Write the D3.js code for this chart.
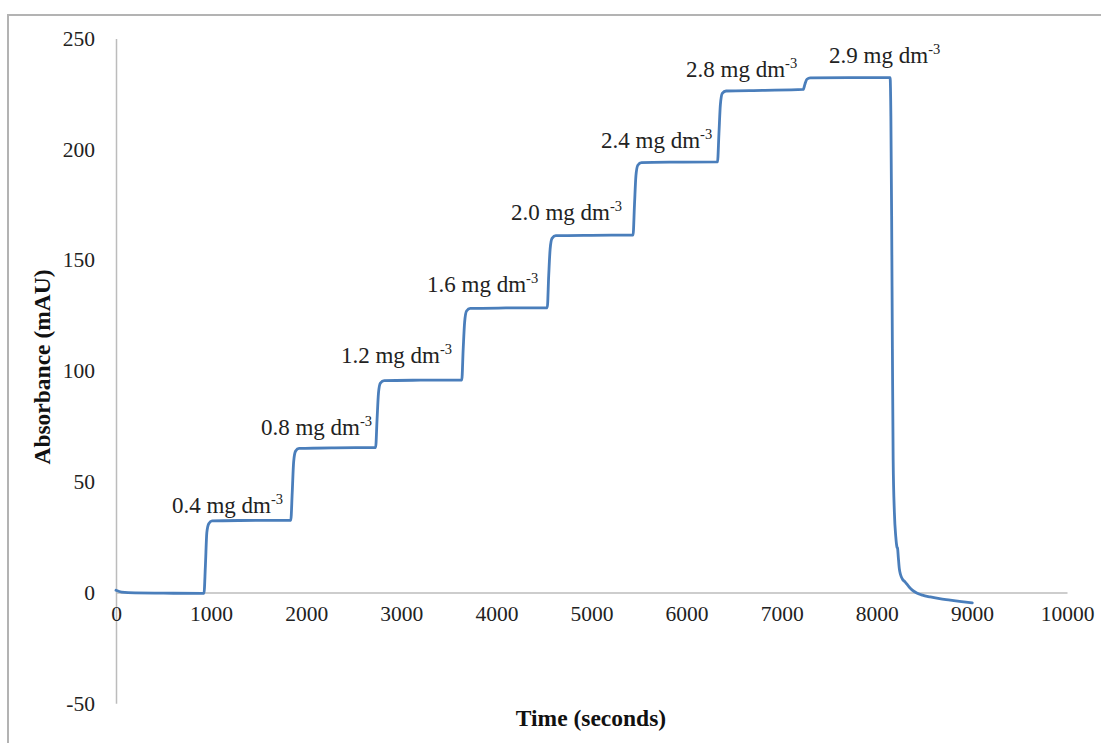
<!DOCTYPE html>
<html>
<head>
<meta charset="utf-8">
<script src="https://cdn.jsdelivr.net/npm/d3@7"></script>
<style>
html, body { margin: 0; padding: 0; background: #fff; }
svg { display: block; }
</style>
</head>
<body>
<div id="chart"></div>
<script>
// ---- data ----
const timeSec = [0, 60, 200, 500, 900, 925,
  940, 955, 975, 1010, 1300, 1838,
  1853, 1868, 1888, 1925, 2300, 2730,
  2745, 2760, 2780, 2820, 3200, 3636,
  3651, 3666, 3686, 3725, 4100, 4535,
  4550, 4565, 4585, 4625, 5000, 5437,
  5452, 5467, 5487, 5525, 5900, 6325,
  6340, 6355, 6375, 6415, 6800, 7226,
  7245, 7265, 7300, 7700, 8140,
  8148, 8156, 8164, 8172, 8185, 8200, 8212, 8218, 8226, 8236, 8250, 8270, 8299, 8340, 8373,
  8420, 8480, 8562, 8660, 8772, 8890, 9004];
const absorbance = [1.0, 0.2, -0.2, -0.3, -0.4, -0.4,
  12, 27, 31, 32.3, 32.5, 32.6,
  45, 59, 63.8, 65.0, 65.3, 65.4,
  78, 90, 94.5, 95.6, 95.8, 95.9,
  110, 122, 127, 128.2, 128.4, 128.5,
  143, 155, 159.8, 161.0, 161.2, 161.3,
  175, 188, 192.8, 194.0, 194.2, 194.3,
  207, 220, 225.2, 226.3, 226.6, 227.0,
  229.5, 231.6, 232.2, 232.3, 232.3,
  215, 170, 110, 60, 36, 25, 20.5, 20, 16, 11, 8, 6, 4.7, 2.5, 1.1,
  -0.2, -1.2, -2.0, -2.8, -3.4, -4.1, -4.7];

const labelText = ["0.4", "0.8", "1.2", "1.6", "2.0", "2.4", "2.8", "2.9"];
const labelTime = [1757, 2693, 3534, 4439, 5322, 6269, 7163, 8667];
const labelAbs = [35.9, 71.1, 103.6, 135.6, 168.1, 200.6, 232.6, 238.9];

const xTicks = [0, 1000, 2000, 3000, 4000, 5000, 6000, 7000, 8000, 9000, 10000];
const yTicks = [-50, 0, 50, 100, 150, 200, 250];

// ---- drawing ----
const W = 1101, H = 743;
const svg = d3.select("#chart").append("svg").attr("width", W).attr("height", H);
const font = "Liberation Serif, Times New Roman, serif";

// outer border (top & left visible)
svg.append("rect").attr("x", 8).attr("y", 15).attr("width", W + 20).attr("height", H + 20)
  .attr("fill", "none").attr("stroke", "#b3b3b3").attr("stroke-width", 2);

const x = d3.scaleLinear().domain([0, 10000]).range([116, 1067]);
const y = d3.scaleLinear().domain([-50, 250]).range([703.3, 38.5]);

// y axis
const yAxis = d3.axisLeft(y).tickValues(yTicks).tickSize(0).tickPadding(21).tickFormat(d => String(d));
const gy = svg.append("g").attr("transform", `translate(${x(0)},0)`).call(yAxis);
gy.select(".domain").attr("stroke", "#bcbcbc").attr("stroke-width", 1.5);
gy.selectAll("text").attr("font-family", font).attr("font-size", 21.5).attr("fill", "#222");

// x axis at y=0
const xAxis = d3.axisBottom(x).tickValues(xTicks).tickSize(0).tickPadding(13).tickFormat(d => String(d));
const gx = svg.append("g").attr("transform", `translate(0,${y(0)})`).call(xAxis);
gx.select(".domain").attr("stroke", "#bcbcbc").attr("stroke-width", 1.5);
gx.selectAll("text").attr("font-family", font).attr("font-size", 21.5).attr("fill", "#222");

// line
const pts = timeSec.map((t, i) => [t, absorbance[i]]);
svg.append("path").datum(pts)
  .attr("fill", "none").attr("stroke", "#4a7ebb").attr("stroke-width", 2.8)
  .attr("stroke-linejoin", "round").attr("stroke-linecap", "round")
  .attr("d", d3.line().x(d => x(d[0])).y(d => y(d[1])).curve(d3.curveMonotoneX));

// annotations
labelText.forEach((lt, i) => {
  const t = svg.append("text").attr("x", x(labelTime[i])).attr("y", y(labelAbs[i]))
    .attr("text-anchor", "end").attr("font-family", font).attr("font-size", 23).attr("fill", "#222");
  t.append("tspan").text(lt + " mg dm");
  t.append("tspan").attr("font-size", 14.5).attr("dy", -9).text("-3");
});

// axis titles
svg.append("text").attr("x", 591).attr("y", 726).attr("text-anchor", "middle")
  .attr("font-family", font).attr("font-weight", "bold").attr("font-size", 23.5).attr("fill", "#111")
  .text("Time (seconds)");
svg.append("text").attr("transform", "translate(50,367) rotate(-90)").attr("text-anchor", "middle")
  .attr("font-family", font).attr("font-weight", "bold").attr("font-size", 23.5).attr("fill", "#111")
  .text("Absorbance (mAU)");
</script>
</body>
</html>
